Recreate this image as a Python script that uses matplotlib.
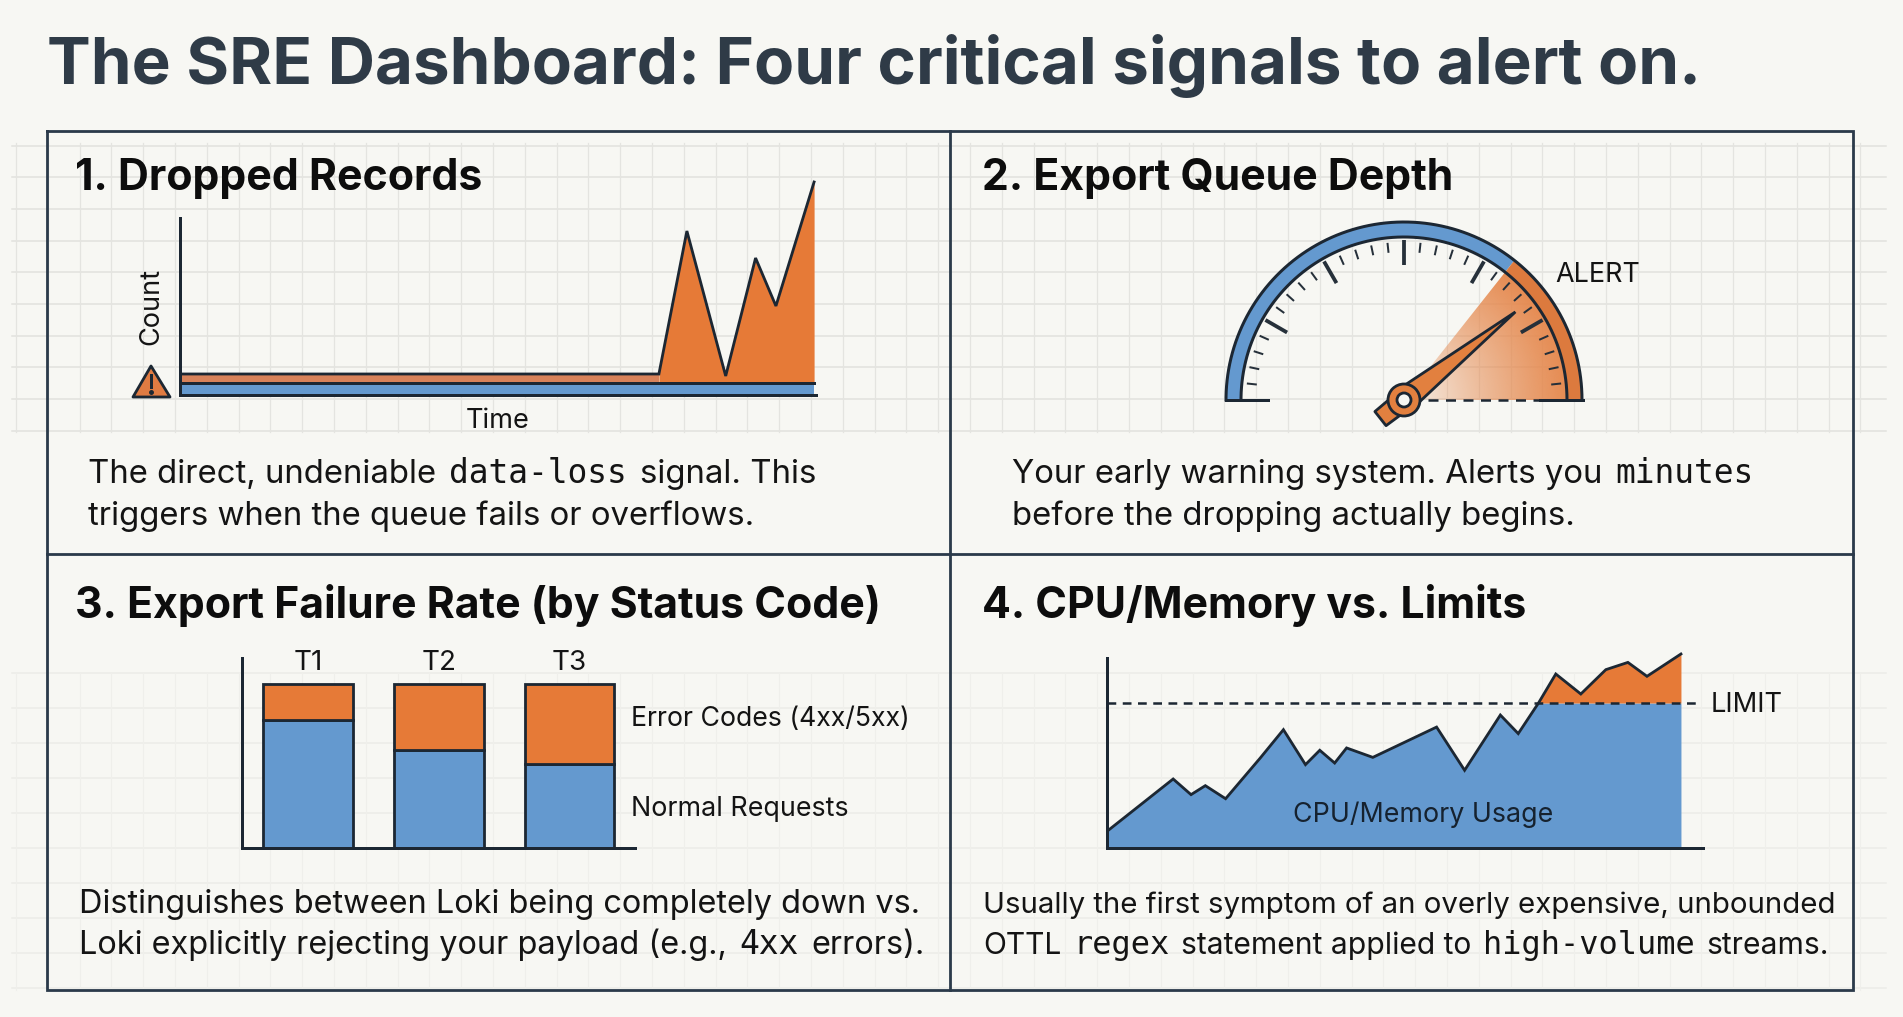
import numpy as np
import matplotlib
matplotlib.use("Agg")
import matplotlib.pyplot as plt
from matplotlib.patches import Wedge, Polygon, Circle

# panel 1: dropped records
drop_time = [0, 75.3, 79.7, 85.8, 90.5, 93.7, 99.7]
drop_count = [21, 21, 164, 19, 137, 89, 213]
queued_base = 12

# panel 2: queue gauge (0-100 scale)
gauge_alert = 71.3
gauge_value = 78.7

# panel 3: stacked bars
bar_labels = ["T1", "T2", "T3"]
normal_pct = [78, 60, 51]
error_pct = [22, 40, 49]

# panel 4: usage vs limit
usage_time = [0, 11.1, 14.1, 16.5, 19.9, 25.7, 29.6, 33.3, 35.7, 38.2, 40.2, 44.6,
              55.3, 60, 66, 69, 72.4, 75.3, 79.5, 83.7, 87.4, 90.6, 96.3]
usage_val = [11.5, 47.6, 36.8, 43, 34, 62, 81.6, 57.5, 67.4, 58.6, 69, 62.5,
             83.4, 53.6, 91.7, 78.9, 100, 120, 106.2, 123, 128, 118.4, 133.8]
limit_val = 100

W, H = 1903, 1017
BG = "#f7f7f3"
DARK = "#1c2733"
FRAME = "#2b3a4a"
BLUE = "#6499cf"
ORANGE = "#e67a37"
MUTED = "#d8825a"
TEXT = "#141414"
BODY_FONT = ["Inter", "DejaVu Sans"]
MONO_FONT = ["DejaVu Sans Mono"]

plt.rcParams["font.family"] = BODY_FONT
fig = plt.figure(figsize=(W / 100, H / 100), dpi=100, facecolor=BG)


def px(v):
    # pixel widths to points
    return v * 72 / 100


def make_ax(x0, y0, x1, y1):
    # axes box given in image pixels, y going down
    ax = fig.add_axes([x0 / W, 1 - y1 / H, (x1 - x0) / W, (y1 - y0) / H])
    ax.patch.set_alpha(0)
    ax.set_xticks([])
    ax.set_yticks([])
    for s in ax.spines.values():
        s.set_visible(False)
    return ax


def show_axis_lines(ax, top):
    for name in ("left", "bottom"):
        ax.spines[name].set_visible(True)
        ax.spines[name].set_color(DARK)
        ax.spines[name].set_linewidth(px(3))
    ax.spines["left"].set_bounds(0, top)


bg = make_ax(0, 0, W, H)
bg.set_xlim(0, W)
bg.set_ylim(H, 0)

# faint paper grid
for y in np.arange(145.5, 435, 31.7):
    bg.plot([12, 1886], [y, y], color="#e1e1dd", lw=px(1.5), zorder=1)
for x in np.arange(16, 1886, 31.8):
    bg.plot([x, x], [143, 432], color="#e4e4e0", lw=px(1.3), zorder=1)
for y in np.arange(673, 995, 35):
    bg.plot([12, 1886], [y, y], color="#ecece8", lw=px(1.5), zorder=1)
for x in np.arange(16, 1886, 31.8):
    bg.plot([x, x], [673, 990], color="#efefeb", lw=px(1.2), zorder=1)

# outer frame and dividers
for xs, ys in [([47, 1853, 1853, 47, 47], [131, 131, 990, 990, 131]),
               ([950, 950], [131, 990]), ([47, 1853], [554, 554])]:
    bg.plot(xs, ys, color=FRAME, lw=px(2.8), zorder=3, solid_joinstyle="miter")

bg.text(47, 84, "The SRE Dashboard: Four critical signals to alert on.", fontsize=47.2,
        fontweight="bold", color="#2f3b47", va="baseline", zorder=5)

for x, y, s in [(75, 190, "1. Dropped Records"), (982, 190, "2. Export Queue Depth"),
                (75, 618, "3. Export Failure Rate (by Status Code)"),
                (982, 618, "4. CPU/Memory vs. Limits")]:
    bg.text(x, y, s, fontsize=30.8, fontweight="bold", color="#0d0d0d", va="baseline", zorder=5)


def rich_line(x, y, parts, size=23.7, mono_size=23.7):
    # strings in body font and mono font, set one after the other
    rend = fig.canvas.get_renderer()
    gap = size * 100 / 72 * 0.39
    for s, mono in parts:
        t = bg.text(x, y, s, fontsize=mono_size if mono else size, color=TEXT, va="baseline",
                    zorder=5, family=MONO_FONT if mono else BODY_FONT)
        x += t.get_window_extent(rend).width + gap


rich_line(88, 483, [("The direct, undeniable", 0), ("data-loss", 1), ("signal. This", 0)])
rich_line(88, 525, [("triggers when the queue fails or overflows.", 0)])
rich_line(1012, 483, [("Your early warning system. Alerts you", 0), ("minutes", 1)])
rich_line(1012, 525, [("before the dropping actually begins.", 0)])
rich_line(79, 913, [("Distinguishes between Loki being completely down vs.", 0)], size=23.4)
rich_line(79, 954, [("Loki explicitly rejecting your payload (e.g.,", 0), ("4xx", 1), ("errors).", 0)],
          size=23.4)
rich_line(983, 913, [("Usually the first symptom of an overly expensive, unbounded", 0)], size=21.2)
rich_line(983, 954, [("OTTL", 0), ("regex", 1), ("statement applied to", 0), ("high-volume", 1),
                     ("streams.", 0)], size=21.6, mono_size=23)

# --- 1. dropped records
ax1 = make_ax(180, 170, 816, 395)
ax1.set_xlim(0, 100)
ax1.set_ylim(0, 225)
t = np.array(drop_time)
c = np.array(drop_count)
ax1.fill_between(t[:2], queued_base, c[:2], color=MUTED, lw=0)
ax1.fill_between(t[1:], queued_base, c[1:], color=ORANGE, lw=0)
ax1.fill_between(t, 0, queued_base, color=BLUE, lw=0)
ax1.plot(t, c, color=DARK, lw=px(2.8), solid_joinstyle="miter")
ax1.plot([0, 100], [queued_base, queued_base], color=DARK, lw=px(3))
show_axis_lines(ax1, 177)
ax1.text(50, -25.5, "Time", fontsize=19.6, color=TEXT, ha="center", va="center", clip_on=False)
ax1.text(-4.5, 89, "Count", fontsize=19.5, color=TEXT, rotation=90, ha="center", va="center",
         clip_on=False)

# warning sign
bg.add_patch(Polygon([[151, 366], [133, 397], [170, 397]], closed=True, fc="#e07b42", ec=DARK,
                     lw=px(2.8), joinstyle="round", zorder=5))
bg.plot([151, 151], [375, 387], color=DARK, lw=px(3), zorder=6)
bg.plot([151], [392], marker="o", ms=px(3.5), color=DARK, zorder=6)

# --- 2. gauge, data coords are pixels from the hub
cx, cy = 1404, 400
ax2 = make_ax(cx - 190, cy - 190, cx + 190, cy + 40)
ax2.set_xlim(-190, 190)
ax2.set_ylim(-40, 190)


def to_angle(v):
    return 180 - v * 1.8


R_OUT, R_IN = 178, 163
alert_ang = to_angle(gauge_alert)
value_ang = to_angle(gauge_value)

# shaded alert sector
gx, gy = np.meshgrid(np.linspace(0, 170, 200), np.linspace(0, 170, 200))
rr = np.hypot(gx, gy) / R_IN
rgba = np.zeros(gx.shape + (4,))
rgba[..., :3] = matplotlib.colors.to_rgb("#e5864a")
rgba[..., 3] = np.clip(rr, 0, 1) ** 0.8 * 0.95
img = ax2.imshow(rgba, extent=(0, 170, 0, 170), origin="lower", zorder=1, aspect="auto")
img.set_clip_path(Wedge((0, 0), R_IN, 0, alert_ang, transform=ax2.transData))

ax2.add_patch(Wedge((0, 0), R_OUT, alert_ang, 180, width=R_OUT - R_IN, fc=BLUE, ec="none", zorder=2))
ax2.add_patch(Wedge((0, 0), R_OUT, 0, alert_ang, width=R_OUT - R_IN, fc="#dc7a3e", ec="none", zorder=2))
ang = np.radians(np.linspace(0, 180, 200))
for r in (R_OUT, R_IN):
    ax2.plot(r * np.cos(ang), r * np.sin(ang), color=DARK, lw=px(3), zorder=3)

for a in range(6, 180, 6):
    major = a % 30 == 0
    r0, r1 = (135, 160) if major else (148, 158)
    ca, sa = np.cos(np.radians(a)), np.sin(np.radians(a))
    ax2.plot([r0 * ca, r1 * ca], [r0 * sa, r1 * sa], color="#26303a",
             lw=px(3.8 if major else 2), zorder=3, solid_capstyle="butt")

ax2.plot([-178, -136], [0, 0], color=DARK, lw=px(3), zorder=3)
ax2.plot([24, 136], [0, 0], color=DARK, lw=px(2.5), ls=(0, (4, 3)), zorder=3)
ax2.plot([136, 179], [0, 0], color=DARK, lw=px(3), zorder=3)

# needle
na = np.radians(value_ang)
ux, uy = np.cos(na), np.sin(na)
nx, ny = -uy, ux
ax2.add_patch(Polygon([[142 * ux, 142 * uy], [12 * nx, 12 * ny], [-12 * nx, -12 * ny]], closed=True,
                      fc="#e2803f", ec=DARK, lw=px(2.8), joinstyle="miter", zorder=4))
ax2.add_patch(Polygon([[10 * nx, 10 * ny], [-10 * nx, -10 * ny],
                       [-30 * ux - 9 * nx, -30 * uy - 9 * ny], [-30 * ux + 9 * nx, -30 * uy + 9 * ny]],
                      closed=True, fc="#e2803f", ec=DARK, lw=px(2.8), joinstyle="round", zorder=4))
ax2.add_patch(Circle((0, 0), 16, fc="#e2803f", ec=DARK, lw=px(2.8), zorder=5))
ax2.add_patch(Circle((0, 0), 7, fc=BG, ec=DARK, lw=px(2.8), zorder=6))

bg.text(1555, 282, "ALERT", fontsize=19.4, color=TEXT, va="baseline", zorder=5)

# --- 3. stacked bars
ax3 = make_ax(242, 658, 635, 848)
ax3.set_xlim(-0.505, 2.5)
ax3.set_ylim(0, 115.9)
xpos = np.arange(len(bar_labels))
ax3.bar(xpos, normal_pct, width=0.685, color=BLUE, edgecolor=DARK, linewidth=px(2.8), clip_on=False)
ax3.bar(xpos, error_pct, width=0.685, bottom=normal_pct, color=ORANGE, edgecolor=DARK,
        linewidth=px(2.8), clip_on=False)
show_axis_lines(ax3, 115.9)
for x, lab in zip(xpos, bar_labels):
    ax3.text(x, 113, lab, fontsize=20, color=TEXT, ha="center", va="center")
bg.text(631, 726, "Error Codes (4xx/5xx)", fontsize=19.2, color=TEXT, va="baseline", zorder=5)
bg.text(631, 816, "Normal Requests", fontsize=19.3, color=TEXT, va="baseline", zorder=5)

# --- 4. usage vs limit
ax4 = make_ax(1107, 645, 1703, 848)
ax4.set_xlim(0, 100)
ax4.set_ylim(0, 140)
ut = np.array(usage_time)
uv = np.array(usage_val)
ax4.fill_between(ut, 0, np.minimum(uv, limit_val), color=BLUE, lw=0)
ax4.fill_between(ut, limit_val, uv, where=uv >= limit_val, color=ORANGE, lw=0)
ax4.plot(ut, uv, color=DARK, lw=px(2.8), solid_joinstyle="miter")
ax4.plot([0, 99.6], [limit_val, limit_val], color=DARK, lw=px(2.5), ls=(0, (3.5, 2.6)))
show_axis_lines(ax4, 131)
ax4.text(53, 23, "CPU/Memory Usage", fontsize=19.3, color="#16222f", ha="center", va="center")
bg.text(1711, 712, "LIMIT", fontsize=19.7, color=TEXT, va="baseline", zorder=5)

fig.savefig("out.png", dpi=100, facecolor=BG)
